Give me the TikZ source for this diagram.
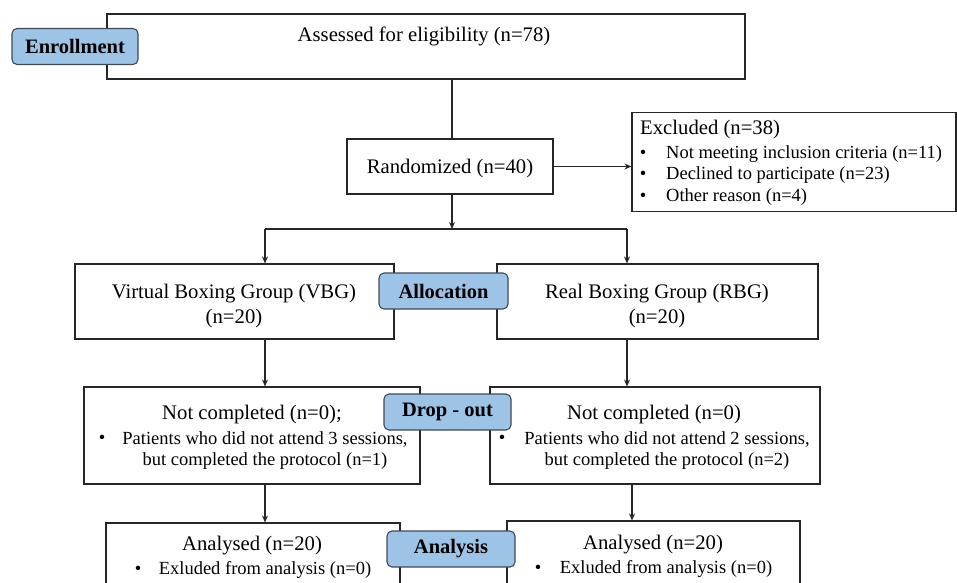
\documentclass[tikz,border=0pt]{standalone}
\usepackage{fontspec}
\setmainfont{Liberation Serif}
\usetikzlibrary{arrows.meta}
\definecolor{lblue}{HTML}{9DC3E6}
\definecolor{lborder}{HTML}{3F4A57}
\tikzset{
  box/.style={draw=black!85, line width=1.1pt, fill=white, inner sep=0pt},
  tag/.style={draw=lborder, line width=1.1pt, fill=lblue, rounded corners=5pt, inner sep=0pt,
    minimum width=#1, minimum height=36pt, font=\fontsize{20.5}{24}\selectfont\bfseries},
  ttl/.style={inner sep=0pt, yshift=-2pt, font=\fontsize{20.7}{24}\selectfont},
  itm/.style={inner sep=0pt, yshift=-2pt, font=\fontsize{18.5}{22}\selectfont},
  conn/.style={line width=1.1pt, draw=black!85},
  arr/.style={conn, -{Stealth[length=7pt,width=6pt]}}
}
\begin{document}
\begin{tikzpicture}[x=1pt,y=-1pt]
\useasboundingbox (0,0) rectangle (957,582);
\clip (0,0) rectangle (957,582);
% boxes
\node[box, minimum width=638pt, minimum height=65pt] (assess) at (426,46.5) {};
\node[box, minimum width=206pt, minimum height=55pt] (rand) at (450,166.5) {};
\node[box, minimum width=324pt, minimum height=99pt] (excl) at (794,162) {};
\node[box, minimum width=319pt, minimum height=75pt] (vbg) at (234.5,301.5) {};
\node[box, minimum width=321pt, minimum height=75pt] (rbg) at (657.5,301.5) {};
\node[box, minimum width=336pt, minimum height=97pt] (ncl) at (252,435.5) {};
\node[box, minimum width=330pt, minimum height=97pt] (ncr) at (655,435.5) {};
\node[box, minimum width=294pt, minimum height=100pt] (anl) at (253,573) {};
\node[box, minimum width=293pt, minimum height=100pt] (anr) at (653.5,571) {};
% texts
\node[ttl] (tassess) at (424,34) {Assessed for eligibility (n=78)};
\node[ttl] (trand) at (450,167) {Randomized (n=40)};
\node[ttl, anchor=west] (texcl) at (640,128) {Excluded (n=38)};
\foreach \yy/\tt [count=\i] in {152/Not meeting inclusion criteria (n=11),173/Declined to participate (n=23),195/Other reason (n=4)}{
  \node[itm] (eb\i) at (643,\yy) {\textbullet};
  \node[itm, anchor=west] (et\i) at (666,\yy) {\tt};
}
\node[ttl] (tvbg1) at (234,292) {Virtual Boxing Group (VBG)};
\node[ttl] (tvbg2) at (234,317) {(n=20)};
\node[ttl] (trbg1) at (657,292) {Real Boxing Group (RBG)};
\node[ttl] (trbg2) at (657,317) {(n=20)};
\node[ttl] (tncl) at (252,413) {Not completed (n=0);};
\node[itm] (bncl) at (102,437) {\textbullet};
\node[itm] (tncl1) at (265,437) {Patients who did not attend 3 sessions,};
\node[itm] (tncl2) at (265,459) {but completed the protocol (n=1)};
\node[ttl] (tncr) at (654,413) {Not completed (n=0)};
\node[itm] (bncr) at (502,437) {\textbullet};
\node[itm] (tncr1) at (667,437) {Patients who did not attend 2 sessions,};
\node[itm] (tncr2) at (667,459) {but completed the protocol (n=2)};
\node[ttl] (tanl) at (252,544) {Analysed (n=20)};
\node[itm] (banl) at (138,568) {\textbullet};
\node[itm] (tanl1) at (265,568) {Exluded from analysis (n=0)};
\node[ttl] (tanr) at (653,543) {Analysed (n=20)};
\node[itm] (banr) at (538,567) {\textbullet};
\node[itm] (tanr1) at (666,567) {Exluded from analysis (n=0)};
% connectors
\coordinate (split) at (452,229);
\coordinate (sl) at (265,229);
\coordinate (sr) at (627,229);
\draw[conn] (assess.south -| split) -- (rand.north -| split);
\draw[arr] (rand.east) -- (excl.west |- rand.east);
\draw[arr] (rand.south -| split) -- (split);
\draw[conn] (sl) -- (sr);
\draw[arr] (sl) -- (sl |- vbg.north);
\draw[arr] (sr) -- (sr |- rbg.north);
\draw[arr] (vbg.south -| sl) -- (ncl.north -| sl);
\draw[arr] (rbg.south -| sr) -- (ncr.north -| sr);
\draw[arr] (ncl.south -| sl) -- (anl.north -| sl);
\coordinate (cr) at (632,0);
\draw[arr] (ncr.south -| cr) -- (anr.north -| cr);
% stage tags
\node[tag=126pt] (enr) at (75,46.5) {Enrollment};
\node[tag=129pt] (alloc) at (443.5,291) {Allocation};
\node[tag=127pt] (drop) at (447.5,412) {Drop - out};
\node[tag=128pt] (anal) at (451,549) {Analysis};
\end{tikzpicture}
\end{document}
